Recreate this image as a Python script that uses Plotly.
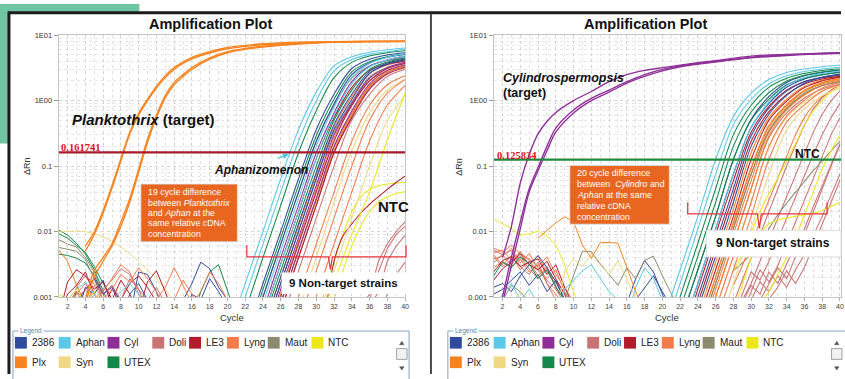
import plotly.graph_objects as go

W, H = 845, 379


def px(x):
    return x / W


def py(y):
    return 1 - y / H


FONT = "Liberation Sans, Arial, sans-serif"
SERIF = "Liberation Serif, Times New Roman, serif"

# ---------------- data ----------------
SERIES = ["2386", "Aphan", "Cyl", "Doli", "LE3", "Lyng", "Maut", "NTC", "Plx", "Syn", "UTEX"]
COLORS = {
    "2386": "#2f4b9e", "Aphan": "#5ac8e6", "Cyl": "#8e2f98", "Doli": "#c97474",
    "LE3": "#b21b2c", "Lyng": "#f27b4b", "Maut": "#8b8a6e", "NTC": "#ece61c",
    "Plx": "#f6831f", "Syn": "#efd985", "UTEX": "#12894a",
}
CYCLE_TICKS = list(range(2, 41, 2))
Y_TICK_VALUES = [0.001, 0.01, 0.1, 1, 10]
Y_TICK_TEXT = ["0.001", "0.01", "0.1", "1E00", "1E01"]
L_THRESHOLD = 0.161741
R_THRESHOLD = 0.125834

AMP_KNOTS = [20, 22, 24, 26, 28, 30, 32, 34, 36, 38, 40]
NOISE_CYCLES = list(range(1, 23))
L_LATE_CYCLES = list(range(30, 41))
R_LATE_CYCLES = list(range(28, 41))

# ---- left panel (Planktothrix assay) ----
L_PLX_CYCLES = [4, 5, 6, 7, 8, 9, 10, 11, 12, 13, 14, 15, 16, 18, 20, 22, 24, 28, 32, 36, 40]
L_PLX_TARGET = [
    [0.006, 0.0098, 0.021, 0.05, 0.13, 0.33, 0.64, 1.05, 1.65, 2.4, 3.2, 3.9, 4.6, 5.6, 6.5, 7.0, 7.4, 7.85, 8.0, 8.1, 8.15],
    [0.005, 0.009, 0.019, 0.046, 0.12, 0.31, 0.6, 1.0, 1.55, 2.25, 3.0, 3.7, 4.35, 5.35, 6.2, 6.75, 7.15, 7.6, 7.8, 7.95, 8.0],
    [0.0009, 0.0025, 0.004, 0.0065, 0.014, 0.032, 0.09, 0.26, 0.6, 1.2, 1.9, 2.5, 3.2, 4.5, 5.6, 6.3, 6.8, 7.5, 7.9, 8.05, 8.1],
    [0.0008, 0.002, 0.0035, 0.006, 0.012, 0.028, 0.08, 0.23, 0.55, 1.1, 1.75, 2.35, 3.0, 4.3, 5.4, 6.1, 6.6, 7.35, 7.8, 8.0, 8.05],
]
L_APHAN = [
    [0.00025, 0.0016, 0.010, 0.064, 0.36, 1.35, 3.4, 4.7, 5.5, 6.0, 6.4],
    [0.00016, 0.001, 0.0064, 0.040, 0.24, 1.0, 2.85, 4.25, 5.1, 5.6, 6.1],
    [0.000024, 0.00013, 0.0008, 0.0051, 0.032, 0.2, 0.8, 2.3, 3.7, 4.6, 5.2],
    [0.000016, 0.00008, 0.00048, 0.0032, 0.02, 0.13, 0.6, 1.8, 3.3, 4.2, 4.8],
]
L_UTEX = [
    [0.0001, 0.0006, 0.004, 0.025, 0.16, 0.7, 2.25, 3.85, 4.8, 5.4, 5.8],
    [0.00003, 0.0002, 0.0013, 0.008, 0.051, 0.29, 1.05, 2.75, 3.95, 4.7, 5.15],
    [0.00001, 0.00006, 0.0004, 0.0025, 0.016, 0.10, 0.5, 1.45, 3.0, 3.9, 4.5],
]
L_2386 = [
    [0.00004, 0.00025, 0.0016, 0.010, 0.064, 0.36, 1.25, 3.1, 4.3, 5.0, 5.4],
    [0.00003, 0.00016, 0.001, 0.0064, 0.040, 0.24, 0.9, 2.5, 3.8, 4.6, 5.1],
    [0.000008, 0.00005, 0.00032, 0.002, 0.013, 0.08, 0.43, 1.25, 2.8, 3.75, 4.35],
    [0.00001, 0.00004, 0.00025, 0.0016, 0.010, 0.064, 0.36, 1.05, 2.6, 3.6, 4.2],
]
L_CYL = [
    [0.00002, 0.0001, 0.0006, 0.004, 0.025, 0.16, 0.65, 1.95, 3.35, 4.2, 4.75],
    [0.000008, 0.00003, 0.0002, 0.0013, 0.008, 0.051, 0.30, 0.9, 2.2, 3.2, 3.85],
    [0.000006, 0.00002, 0.00013, 0.0008, 0.0051, 0.032, 0.2, 0.7, 1.8, 2.9, 3.5],
]
L_LE3 = [
    [0.000016, 0.00008, 0.00048, 0.0032, 0.02, 0.13, 0.55, 1.6, 2.9, 3.6, 4.05],
    [0.000008, 0.00003, 0.00016, 0.001, 0.0064, 0.040, 0.24, 0.84, 2.0, 3.1, 3.7],
    [0.000005, 0.00002, 0.0001, 0.0006, 0.004, 0.025, 0.16, 0.55, 1.5, 2.55, 3.2],
]
L_MAUT = [
    [0.00003, 0.00016, 0.001, 0.0064, 0.040, 0.24, 0.85, 2.2, 3.4, 4.1, 4.5],
    [0.00001, 0.00004, 0.00025, 0.0016, 0.010, 0.064, 0.33, 0.95, 2.3, 3.2, 3.7],
]
L_DOLI = [
    [0.000006, 0.00002, 0.00013, 0.0008, 0.0051, 0.032, 0.2, 0.65, 1.65, 2.7, 3.3],
    [0.000005, 0.00002, 0.0001, 0.0006, 0.004, 0.025, 0.16, 0.58, 1.6, 2.7, 3.35],
    [0.000003, 0.00001, 0.00006, 0.0004, 0.0025, 0.016, 0.10, 0.50, 1.25, 2.35, 3.0],
]
L_LYNG = [
    [0.00001, 0.00005, 0.0003, 0.002, 0.012, 0.075, 0.4, 1.15, 2.6, 3.5, 4.0],
    [0.000008, 0.00003, 0.00018, 0.0011, 0.007, 0.045, 0.27, 0.85, 2.0, 2.9, 3.4],
    [1e-6, 4e-6, 0.00002, 0.00016, 0.001, 0.0064, 0.040, 0.24, 0.85, 1.75, 2.4],
    [1e-6, 1e-6, 0.00001, 0.00006, 0.0004, 0.0025, 0.016, 0.10, 0.50, 1.3, 2.1],
    [1e-6, 1e-6, 1e-6, 0.00001, 0.00016, 0.001, 0.0064, 0.040, 0.24, 0.85, 1.7],
]
L_PLX_BUNDLE = [
    [0.000006, 0.000025, 0.00013, 0.0008, 0.005, 0.03, 0.18, 0.62, 1.7, 2.8, 3.4],
]
L_SYN = [
    [1e-6, 2e-6, 0.00001, 0.00008, 0.0006, 0.004, 0.028, 0.17, 0.65, 1.45, 2.1],
    [1e-6, 1e-6, 1e-6, 1e-6, 0.00006, 0.0004, 0.0025, 0.016, 0.10, 0.5, 1.2],
]
L_NTC_AMP = [
    [1e-6, 1e-6, 1e-6, 1e-6, 0.00006, 0.0003, 0.0017, 0.009, 0.04, 0.25, 1.3],
]
L_LE3_LOW = [
    [0.0002, 0.0006, 0.0035, 0.0085, 0.013, 0.019, 0.026, 0.034, 0.044, 0.056, 0.07],
]
L_NTC_LOW = [
    [0.0006, 0.0012, 0.0035, 0.009, 0.02, 0.034, 0.044, 0.05, 0.053, 0.055, 0.056],
    [0.0002, 0.0004, 0.0009, 0.0025, 0.006, 0.012, 0.02, 0.028, 0.034, 0.038, 0.041],
]
L_DOLI_LOW = [
    [0.0002, 0.0002, 0.0003, 0.0004, 0.0005, 0.0007, 0.0011, 0.0035, 0.0065, 0.010, 0.014],
    [0.0002, 0.0002, 0.0002, 0.0002, 0.0003, 0.0004, 0.0007, 0.0012, 0.0035, 0.006, 0.0087],
    [0.0002, 0.0002, 0.0002, 0.0002, 0.0002, 0.0003, 0.0003, 0.0005, 0.0011, 0.0022, 0.0034],
    [0.0002, 0.0002, 0.0002, 0.0003, 0.0004, 0.0006, 0.0009, 0.0024, 0.0055, 0.009, 0.012],
]
L_NOISE_UTEX = [
    [0.0105, 0.0088, 0.0066, 0.0045, 0.0026, 0.0012, 0.0006, 0.0005, 0.0005, 0.0005, 0.0005, 0.0005, 0.0005, 0.0005, 0.0005, 0.0005, 0.0012, 0.0024, 0.0031, 0.0013, 0.0005],
    [0.0045, 0.0043, 0.0039, 0.0033, 0.0021, 0.0011, 0.0015, 0.0008, 0.0005],
    [0.0092, 0.0079, 0.0061, 0.0048, 0.0029, 0.0016, 0.0009, 0.0005],
]
L_NOISE_MAUT = [
    [0.0075, 0.0064, 0.0058, 0.0040, 0.0024, 0.0011, 0.0005],
    [0.0057, 0.0053, 0.0050, 0.0037, 0.0019, 0.0009, 0.0005],
]
L_NOISE_SYN = [
    [0.0098, 0.0101, 0.0102, 0.0099, 0.0093, 0.0083, 0.0071, 0.0058, 0.0046, 0.0035, 0.0026, 0.0019, 0.0013, 0.0008, 0.0005],
]
L_NOISE_PLX = [
    [0.0052, 0.0035, 0.0015, 0.0008, 0.0005],
]
L_NOISE_2386 = [
    [0.0005, 0.0005, 0.0012, 0.0009, 0.0005, 0.0005, 0.0005, 0.0008, 0.0005, 0.0024, 0.0022, 0.0012, 0.0005, 0.0005, 0.0009, 0.0016, 0.0034, 0.0027, 0.0014, 0.0009, 0.0005],
    [0.0005, 0.0005, 0.0005, 0.0014, 0.0011, 0.0018, 0.0007, 0.0005, 0.0011, 0.0016, 0.0009, 0.0005, 0.0005, 0.0005, 0.0005, 0.0011, 0.0009, 0.0019, 0.0012, 0.0007, 0.0005],
]
L_NOISE_LE3 = [
    [0.0005, 0.0017, 0.0026, 0.0021, 0.0013, 0.0017, 0.0009, 0.0018, 0.0011, 0.0006, 0.0017, 0.0025, 0.0012, 0.0005],
    [0.0005, 0.0011, 0.0015, 0.0024, 0.0011, 0.0007, 0.0013, 0.0009, 0.0016, 0.0021, 0.0014, 0.0008, 0.0005],
]
L_NOISE_LYNG = [
    [0.0005, 0.0005, 0.0009, 0.0013, 0.0008, 0.0012, 0.0019, 0.0031, 0.0024, 0.0011, 0.0006, 0.0009, 0.0014, 0.0028, 0.0015, 0.0008, 0.0012, 0.0024, 0.0016, 0.0009, 0.0005],
    [0.0005, 0.0008, 0.0012, 0.0007, 0.0015, 0.0009, 0.0013, 0.0022, 0.0017, 0.0028, 0.0019, 0.0012, 0.0007, 0.0009, 0.0018, 0.0011, 0.0006, 0.0005],
]
L_NOISE_DOLI = [
    [0.0005, 0.0007, 0.0011, 0.0016, 0.0009, 0.0013, 0.0018, 0.0027, 0.0022, 0.0013, 0.0009, 0.0014, 0.0008, 0.0005],
    [0.0005, 0.0005, 0.0014, 0.0021, 0.0016, 0.0011, 0.0015, 0.0009, 0.0019, 0.0013, 0.0006, 0.0005],
]
L_NOISE_APHAN = [
    [0.0005, 0.0009, 0.0013, 0.0017, 0.0011, 0.0006, 0.0009, 0.0012, 0.0016, 0.0011, 0.0007, 0.0005],
]
L_NOISE_CYL = [
    [0.0005, 0.0005, 0.0008, 0.0013, 0.0019, 0.0011, 0.0014, 0.0007, 0.0005],
]
L_NOISE_NTC = [
    [0.0011, 0.0009, 0.0013, 0.0008, 0.0012, 0.0006, 0.0005],
]

# ---- right panel (Cylindrospermopsis assay) ----
R_CYL_CYCLES = [2, 3, 4, 5, 6, 7, 8, 10, 12, 14, 16, 18, 20, 22, 26, 30, 34, 38, 40]
R_CYL_TARGET = [
    [0.004, 0.012, 0.055, 0.15, 0.31, 0.48, 0.66, 1.0, 1.38, 1.95, 2.5, 2.9, 3.2, 3.5, 4.1, 4.8, 5.1, 5.3, 5.4],
    [0.0008, 0.003, 0.011, 0.04, 0.085, 0.17, 0.33, 0.65, 1.0, 1.35, 1.85, 2.35, 2.85, 3.3, 3.9, 4.5, 4.9, 5.2, 5.3],
    [0.001, 0.004, 0.014, 0.045, 0.095, 0.2, 0.38, 0.72, 1.08, 1.45, 1.95, 2.5, 3.0, 3.4, 4.0, 4.6, 5.0, 5.25, 5.35],
]
R_APHAN = [
    [0.0004, 0.0026, 0.017, 0.126, 0.57, 1.3, 2.1, 2.7, 3.05, 3.3, 3.5],
    [0.00025, 0.0016, 0.011, 0.075, 0.43, 1.05, 1.8, 2.4, 2.8, 3.05, 3.25],
    [0.00004, 0.00025, 0.0016, 0.011, 0.075, 0.39, 0.95, 1.7, 2.25, 2.6, 2.85],
]
R_UTEX = [
    [0.00015, 0.001, 0.0066, 0.045, 0.30, 0.85, 1.6, 2.2, 2.6, 2.9, 3.05],
    [0.0001, 0.00065, 0.0042, 0.028, 0.2, 0.67, 1.32, 2.0, 2.45, 2.75, 2.95],
    [0.00006, 0.0004, 0.0026, 0.017, 0.126, 0.5, 1.05, 1.75, 2.2, 2.5, 2.7],
]
R_2386 = [
    [0.00006, 0.0004, 0.0026, 0.017, 0.126, 0.52, 1.15, 1.9, 2.4, 2.7, 2.9],
    [0.00004, 0.00025, 0.0016, 0.011, 0.075, 0.39, 0.91, 1.6, 2.15, 2.5, 2.75],
    [0.00002, 0.00015, 0.001, 0.0066, 0.045, 0.29, 0.77, 1.4, 1.96, 2.3, 2.56],
    [0.00001, 0.0001, 0.00065, 0.0042, 0.028, 0.2, 0.62, 1.2, 1.85, 2.25, 2.5],
]
R_LE3 = [
    [0.00003, 0.0002, 0.0013, 0.009, 0.06, 0.33, 0.82, 1.45, 1.95, 2.25, 2.45],
    [0.000015, 0.00012, 0.0008, 0.0053, 0.036, 0.24, 0.68, 1.25, 1.8, 2.15, 2.35],
    [0.00001, 0.00006, 0.0004, 0.0026, 0.017, 0.126, 0.5, 0.98, 1.58, 2.0, 2.3],
]
R_PLX = [
    [0.00001, 0.00008, 0.0005, 0.0034, 0.022, 0.16, 0.55, 1.05, 1.65, 2.05, 2.3],
    [0.000008, 0.00005, 0.0003, 0.002, 0.014, 0.095, 0.42, 0.88, 1.45, 1.9, 2.2],
    [0.000006, 0.00004, 0.00025, 0.0016, 0.011, 0.075, 0.36, 0.8, 1.4, 1.85, 2.15],
    [0.000004, 0.00002, 0.00015, 0.001, 0.0066, 0.045, 0.29, 0.72, 1.22, 1.7, 2.0],
]
R_LYNG = [
    [0.000007, 0.00005, 0.0003, 0.002, 0.013, 0.09, 0.4, 0.85, 1.4, 1.8, 2.05],
    [0.000005, 0.00003, 0.0002, 0.0013, 0.009, 0.06, 0.33, 0.75, 1.25, 1.7, 1.95],
    [0.000003, 0.00001, 0.0001, 0.00065, 0.0042, 0.028, 0.2, 0.58, 1.02, 1.56, 1.9],
    [1e-6, 0.00001, 0.00006, 0.0004, 0.0026, 0.017, 0.126, 0.47, 0.86, 1.39, 1.78],
]
R_MAUT = [
    [0.000006, 0.00004, 0.00025, 0.0016, 0.011, 0.075, 0.34, 0.75, 1.3, 1.7, 1.95],
]
R_DOLI = [
    [0.000004, 0.00002, 0.00015, 0.001, 0.0066, 0.045, 0.27, 0.65, 1.1, 1.5, 1.8],
]
R_SYN = [
    [0.000003, 0.00001, 0.0001, 0.00065, 0.0042, 0.028, 0.19, 0.55, 0.95, 1.4, 1.7],
    [1e-6, 0.000005, 0.00004, 0.00025, 0.0016, 0.011, 0.075, 0.36, 0.75, 1.2, 1.55],
]
R_NTC_LATE = [
    [0.0025, 0.0045, 0.0095, 0.02, 0.038, 0.065, 0.12, 0.22, 0.42, 0.7, 1.0, 1.35, 1.6],
    [0.0006, 0.0015, 0.004, 0.009, 0.013, 0.015, 0.016, 0.017, 0.018, 0.019, 0.021, 0.024, 0.028],
    [0.0002, 0.0003, 0.0005, 0.0008, 0.0012, 0.0022, 0.004, 0.008, 0.018, 0.04, 0.09, 0.17, 0.3],
]
R_DOLI_LATE = [
    [0.0008, 0.0018, 0.004, 0.009, 0.02, 0.045, 0.1, 0.21, 0.42, 0.75, 1.1, 1.45, 1.75],
    [0.0005, 0.0009, 0.0016, 0.0035, 0.0075, 0.016, 0.035, 0.075, 0.16, 0.33, 0.62, 1.0, 1.4],
    [0.0005, 0.0011, 0.0024, 0.0018, 0.0035, 0.0075, 0.016, 0.034, 0.07, 0.15, 0.3, 0.55, 0.9],
    [0.0004, 0.0006, 0.0012, 0.0026, 0.0017, 0.003, 0.0065, 0.014, 0.03, 0.065, 0.14, 0.3, 0.55],
    [0.0003, 0.0004, 0.0005, 0.0009, 0.0016, 0.0028, 0.0019, 0.004, 0.009, 0.02, 0.045, 0.1, 0.21],
    [0.0003, 0.0003, 0.0004, 0.0006, 0.0009, 0.0014, 0.0025, 0.0016, 0.0028, 0.006, 0.013, 0.028, 0.06],
    [0.0004, 0.0008, 0.0015, 0.0011, 0.0024, 0.0016, 0.0032, 0.0058, 0.011, 0.024, 0.05, 0.11, 0.22],
    [0.0003, 0.0005, 0.0009, 0.0017, 0.0012, 0.0021, 0.0014, 0.0026, 0.0044, 0.0085, 0.017, 0.036, 0.075],
]
R_MAUT_LATE = [
    [0.0025, 0.0033, 0.0045, 0.0065, 0.011, 0.018, 0.027, 0.04, 0.058, 0.085, 0.12, 0.17, 0.24],
]
R_LYNG_LATE = [
    [0.0015, 0.003, 0.0065, 0.014, 0.03, 0.065, 0.14, 0.3, 0.55, 0.85, 1.15, 1.45, 1.7],
]
R_NOISE_LYNG = [
    [0.0056, 0.0048, 0.0062, 0.0045, 0.0038, 0.0029, 0.0041, 0.0022, 0.0014, 0.0008, 0.0005],
    [0.0047, 0.0052, 0.0036, 0.0049, 0.0031, 0.0042, 0.0024, 0.0018, 0.0011, 0.0006],
    [0.0038, 0.0042, 0.0055, 0.0033, 0.0046, 0.0027, 0.0019, 0.0026, 0.0012, 0.0007],
    [0.0028, 0.0035, 0.0029, 0.0038, 0.0024, 0.0031, 0.0016, 0.0011, 0.0007, 0.0005],
    [0.0044, 0.0031, 0.0043, 0.0026, 0.0035, 0.0021, 0.0029, 0.0014, 0.0009, 0.0005],
]
R_NOISE_DOLI = [
    [0.0052, 0.0044, 0.0031, 0.0048, 0.0036, 0.0025, 0.0018, 0.0013, 0.0008, 0.0005],
    [0.0033, 0.0045, 0.0051, 0.0029, 0.0022, 0.0034, 0.0016, 0.0009, 0.0005],
    [0.0041, 0.0029, 0.0037, 0.0041, 0.0027, 0.0019, 0.0028, 0.0015, 0.0007],
]
R_NOISE_LE3 = [
    [0.0024, 0.0036, 0.0041, 0.0029, 0.0034, 0.0038, 0.0022, 0.0031, 0.0014, 0.0007],
    [0.0018, 0.0027, 0.0034, 0.0045, 0.0031, 0.0026, 0.0035, 0.0019, 0.0011, 0.0005],
]
R_NOISE_2386 = [
    [0.0014, 0.0016, 0.0012, 0.0021, 0.0031, 0.0043, 0.0028, 0.0017, 0.0009, 0.0005, 0.0005, 0.0005, 0.0005, 0.0005, 0.0005, 0.0008, 0.0019, 0.0036, 0.0024, 0.0011, 0.0005],
    [0.0011, 0.0013, 0.0018, 0.0024, 0.0015, 0.0022, 0.0012, 0.0018, 0.0009, 0.0005, 0.0005, 0.0005, 0.0005, 0.0005, 0.0005, 0.0005, 0.0009, 0.0014, 0.0021, 0.0012, 0.0007, 0.0005],
]
R_NOISE_MAUT = [
    [0.0005, 0.0009, 0.0015, 0.0012, 0.0008, 0.0005, 0.0005, 0.0005, 0.0009, 0.0021, 0.0050, 0.0049, 0.0032, 0.0022, 0.0015, 0.0028, 0.0019, 0.0036, 0.0042, 0.0021, 0.0011, 0.0006],
]
R_NOISE_APHAN = [
    [0.0005, 0.0011, 0.0016, 0.0009, 0.0013, 0.0008, 0.0005, 0.0007, 0.0013, 0.0018, 0.0025, 0.0031, 0.0019, 0.0012, 0.0009, 0.0005, 0.0014, 0.0028, 0.0019, 0.0009, 0.0005],
]
R_NOISE_NTC = [
    [0.0156, 0.0130, 0.0110, 0.0088, 0.0092, 0.0101, 0.0085, 0.0063, 0.0031, 0.0012, 0.0006],
]
R_NOISE_SYN = [
    [0.0005, 0.0005, 0.0008, 0.0012, 0.0009, 0.0005, 0.0005, 0.0005, 0.0024, 0.0038, 0.0029, 0.0045, 0.0031, 0.0022, 0.0036, 0.0018, 0.0009, 0.0005],
]
R_NOISE_PLX = [
    [None, None, None, None, None, 0.0079, 0.0105, 0.0135, 0.0168, 0.0140, 0.0062, 0.0039, 0.0067, 0.0068, 0.0066, 0.0028, 0.0012, 0.0006],
]
R_NOISE_UTEX = [
    [0.0021, 0.0034, 0.0028, 0.0041, 0.0032, 0.0019, 0.0026, 0.0014, 0.0009, 0.0005],
]

LEGEND_ROWS = [SERIES[:8], SERIES[8:]]

# ---------------- figure ----------------
fig = go.Figure()


def add_lines(rows, cycles, name, panel, width=1.05, shape="spline"):
    xa, ya = ("x", "y") if panel == 0 else ("x2", "y2")
    for vals in rows:
        fig.add_trace(go.Scatter(
            x=cycles, y=vals, mode="lines", xaxis=xa, yaxis=ya,
            line=dict(color=COLORS[name], width=width, shape=shape, smoothing=0.9),
            showlegend=False, hoverinfo="skip", connectgaps=False))


# left panel
for name, rows in [("UTEX", L_NOISE_UTEX), ("Maut", L_NOISE_MAUT), ("Syn", L_NOISE_SYN),
                   ("Plx", L_NOISE_PLX), ("2386", L_NOISE_2386), ("LE3", L_NOISE_LE3),
                   ("Lyng", L_NOISE_LYNG), ("Doli", L_NOISE_DOLI), ("Aphan", L_NOISE_APHAN),
                   ("Cyl", L_NOISE_CYL), ("NTC", L_NOISE_NTC)]:
    add_lines(rows, NOISE_CYCLES, name, 0, width=1.0, shape="linear")
add_lines(L_DOLI_LOW, L_LATE_CYCLES, "Doli", 0, shape="linear")
add_lines(L_NTC_LOW, L_LATE_CYCLES, "NTC", 0)
add_lines(L_LE3_LOW, L_LATE_CYCLES, "LE3", 0)
for name, rows in [("Syn", L_SYN), ("Lyng", L_LYNG), ("Doli", L_DOLI), ("Plx", L_PLX_BUNDLE),
                   ("Maut", L_MAUT), ("LE3", L_LE3), ("Cyl", L_CYL), ("2386", L_2386),
                   ("UTEX", L_UTEX), ("Aphan", L_APHAN), ("NTC", L_NTC_AMP)]:
    add_lines(rows, AMP_KNOTS, name, 0)
add_lines(L_PLX_TARGET, L_PLX_CYCLES, "Plx", 0, width=1.35)
fig.add_trace(go.Scatter(x=[1, 40], y=[L_THRESHOLD, L_THRESHOLD], mode="lines",
                         line=dict(color="#a8192a", width=2.2), xaxis="x", yaxis="y",
                         showlegend=False, hoverinfo="skip"))

# right panel
for name, rows in [("Lyng", R_NOISE_LYNG), ("Doli", R_NOISE_DOLI), ("LE3", R_NOISE_LE3),
                   ("2386", R_NOISE_2386), ("Maut", R_NOISE_MAUT), ("Aphan", R_NOISE_APHAN),
                   ("NTC", R_NOISE_NTC), ("Syn", R_NOISE_SYN), ("Plx", R_NOISE_PLX),
                   ("UTEX", R_NOISE_UTEX)]:
    add_lines(rows, NOISE_CYCLES, name, 1, width=1.0, shape="linear")
add_lines(R_DOLI_LATE, R_LATE_CYCLES, "Doli", 1, shape="linear")
add_lines(R_MAUT_LATE, R_LATE_CYCLES, "Maut", 1)
add_lines(R_LYNG_LATE, R_LATE_CYCLES, "Lyng", 1)
add_lines(R_NTC_LATE, R_LATE_CYCLES, "NTC", 1)
for name, rows in [("Syn", R_SYN), ("Doli", R_DOLI), ("Lyng", R_LYNG), ("Plx", R_PLX),
                   ("Maut", R_MAUT), ("LE3", R_LE3), ("2386", R_2386), ("UTEX", R_UTEX),
                   ("Aphan", R_APHAN)]:
    add_lines(rows, AMP_KNOTS, name, 1)
add_lines(R_CYL_TARGET, R_CYL_CYCLES, "Cyl", 1, width=1.35)
fig.add_trace(go.Scatter(x=[1, 40.12], y=[R_THRESHOLD, R_THRESHOLD], mode="lines",
                         line=dict(color="#1e8a3c", width=2.2), xaxis="x2", yaxis="y2",
                         showlegend=False, hoverinfo="skip"))


def xaxis_style(domain, rng, anchor):
    return dict(domain=domain, range=rng, anchor=anchor, tickmode="array", tickvals=CYCLE_TICKS,
                ticks="outside", ticklen=3, tickcolor="#b0b0b0",
                tickfont=dict(size=7, color="#444", family=FONT),
                showgrid=True, gridcolor="#d4d4d4", griddash="dot", gridwidth=1,
                minor=dict(dtick=1, tick0=1, showgrid=True, gridcolor="#e2e2e2", griddash="dot"),
                showline=True, linecolor="#c4c4c4", linewidth=1, mirror=True, zeroline=False)


def yaxis_style(anchor):
    return dict(domain=[py(300), py(32)], type="log", range=[-3, 1], anchor=anchor,
                tickmode="array", tickvals=Y_TICK_VALUES, ticktext=Y_TICK_TEXT,
                ticks="outside", ticklen=4, tickcolor="#9a9a9a",
                tickfont=dict(size=7.5, color="#333", family=FONT),
                showgrid=True, gridcolor="#d4d4d4", griddash="dot",
                minor=dict(dtick="D1", showgrid=True, gridcolor="#e6e6e6", griddash="dot"),
                showline=True, linecolor="#c4c4c4", linewidth=1, mirror=True, zeroline=False)


def rect(x0, y0, x1, y1, fill=None, line=None, lw=1, layer="above"):
    return dict(type="rect", xref="paper", yref="paper", x0=px(x0), x1=px(x1), y0=py(y1), y1=py(y0),
                fillcolor=fill if fill else "rgba(0,0,0,0)",
                line=dict(color=line if line else "rgba(0,0,0,0)", width=lw if line else 0), layer=layer)


def poly(points, color, lw=1.0, fill=None, close=False):
    d = "M " + " L ".join(f"{px(x):.5f},{py(y):.5f}" for x, y in points)
    if close:
        d += " Z"
    return dict(type="path", xref="paper", yref="paper", path=d,
                line=dict(color=color, width=lw), fillcolor=fill if fill else "rgba(0,0,0,0)",
                layer="above")


def text(t, x, y, size, color="#222", bold=False, italic=False, xanchor="left",
         family=FONT, angle=0, bg=None):
    if italic:
        t = f"<i>{t}</i>"
    if bold:
        t = f"<b>{t}</b>"
    a = dict(text=t, x=px(x), y=py(y), xref="paper", yref="paper", showarrow=False,
             xanchor=xanchor, yanchor="middle", textangle=angle,
             font=dict(size=size, color=color, family=family))
    if bg:
        a["bgcolor"] = bg
    return a


shapes = [
    rect(0, 0, 140, 143, fill="#70c4a1", layer="below"),
    rect(9, 9, 846, 380, fill="#ffffff", layer="below"),
    poly([(8, 9), (845, 9)], "#1c1c1c", lw=3),
    poly([(9, 8), (9, 379)], "#1c1c1c", lw=3),
    poly([(433, 10), (433, 379)], "#4a4a4a", lw=2),
    # annotation boxes
    rect(141, 184, 239, 244, fill="#d8d8d8"),
    rect(142, 185, 238, 243, fill="#e8661f"),
    rect(572, 165, 673, 226, fill="#d8d8d8"),
    rect(573, 166, 672, 225, fill="#e8661f"),
    rect(283, 275, 408, 297, fill="#ffffff"),
    rect(710, 232, 845, 259, fill="#ffffff", line="#e2e2e2"),
    # braces
    poly([(248, 247), (248, 259), (330, 259), (332, 272), (334, 259), (408, 259), (408, 247)], "#e8323c", lw=1.2),
    poly([(691, 203), (691, 215), (761, 215), (763, 230), (765, 215), (831, 215), (831, 203)], "#e8323c", lw=1.2),
]

annotations = [
    text("Amplification Plot", 212, 20, 14.5, "#111", bold=True, xanchor="center"),
    text("Amplification Plot", 649, 20, 14.5, "#111", bold=True, xanchor="center"),
    text("Cycle", 233, 321, 9.5, "#333", xanchor="center"),
    text("Cycle", 670, 321, 9.5, "#333", xanchor="center"),
    text("ΔRn", 27, 166, 9, "#333", xanchor="center", angle=-90),
    text("ΔRn", 461, 167, 9, "#333", xanchor="center", angle=-90),
    text("0.161741", 59, 147, 10.5, "#e3101c", bold=True, family=SERIF),
    text("0.125834", 497, 155, 10.5, "#e3101c", bold=True, family=SERIF),
    dict(text="<b><i>Planktothrix</i> (target)</b>", x=px(70), y=py(118), xref="paper", yref="paper",
         showarrow=False, xanchor="left", yanchor="middle", font=dict(size=15, color="#111", family=FONT)),
    text("Cylindrospermopsis", 503, 76, 12.5, "#111", bold=True, italic=True),
    text("(target)", 503, 91, 12.5, "#111", bold=True),
    text("Aphanizomenon", 213, 170, 12, "#111", bold=True, italic=True),
    dict(text=" ", x=px(290), y=py(154), xref="paper", yref="paper", showarrow=True,
         ax=-14, ay=5, arrowhead=2, arrowsize=0.9, arrowwidth=1.3, arrowcolor="#4ec3e3"),
    text("NTC", 378, 207, 15, "#111", bold=True),
    text("NTC", 797, 154, 12, "#111", bold=True),
    text("9 Non-target strains", 288, 286, 11.5, "#111", bold=True),
    text("9 Non-target strains", 717, 245, 12, "#111", bold=True),
]
for i, line in enumerate(["19 cycle difference", "between <i>Planktothrix</i>", "and <i>Aphan</i> at the",
                          "same relative cDNA", "concentration"]):
    annotations.append(text(line, 147, 193 + i * 10.6, 8.8, "#ffffff"))
for i, line in enumerate(["20 cycle difference", "between  <i>Cylindro</i> and", "<i>Aphan</i> at the same",
                          "relative cDNA", "concentration"]):
    annotations.append(text(line, 578, 173 + i * 11.2, 8.8, "#ffffff"))

# legends (drawn as group boxes like the instrument software)
SWATCH_X = [[15, 59, 108, 153, 190, 228, 269, 313], [15, 59, 108]]
ROW_Y = [347, 367]
for off, right in [(0, 411), (437, 850)]:
    shapes.append(rect(13 + off, 335, right, 386, line="#86a3c8", lw=1))
    annotations.append(text("Legend", 18 + off, 335, 6.5, "#5f7fa8", bg="#ffffff"))
    for r, names in enumerate(LEGEND_ROWS):
        for j, name in enumerate(names):
            sx = SWATCH_X[r][j] + off
            shapes.append(rect(sx, ROW_Y[r] - 6, sx + 12, ROW_Y[r] + 6, fill=COLORS[name]))
            annotations.append(text(name, sx + 15, ROW_Y[r], 10, "#222"))
    sbx = 398.5 + off
    shapes.append(rect(sbx, 353, sbx + 10.5, 364, fill="#f3f3f3", line="#a0a0a0", lw=1))
    shapes.append(poly([(sbx + 3, 349), (sbx + 7.5, 349), (sbx + 5.25, 345.5)], "#555", lw=0.5,
                       fill="#555", close=True))
    shapes.append(poly([(sbx + 3, 371.5), (sbx + 7.5, 371.5), (sbx + 5.25, 375)], "#555", lw=0.5,
                       fill="#555", close=True))

fig.update_layout(
    width=W, height=H, margin=dict(l=0, r=0, t=0, b=0),
    paper_bgcolor="#ffffff", plot_bgcolor="#ffffff", showlegend=False,
    xaxis=xaxis_style([px(59), px(407)], [1, 40], "y"),
    yaxis=yaxis_style("x"),
    xaxis2=xaxis_style([px(496), 1.0], [1, 40.12], "y2"),
    yaxis2=yaxis_style("x2"),
    shapes=shapes, annotations=annotations,
)

fig.write_html("out.html", config={"responsive": False, "displayModeBar": False},
               post_script="document.body.style.margin='0';document.body.style.overflow='hidden';")
